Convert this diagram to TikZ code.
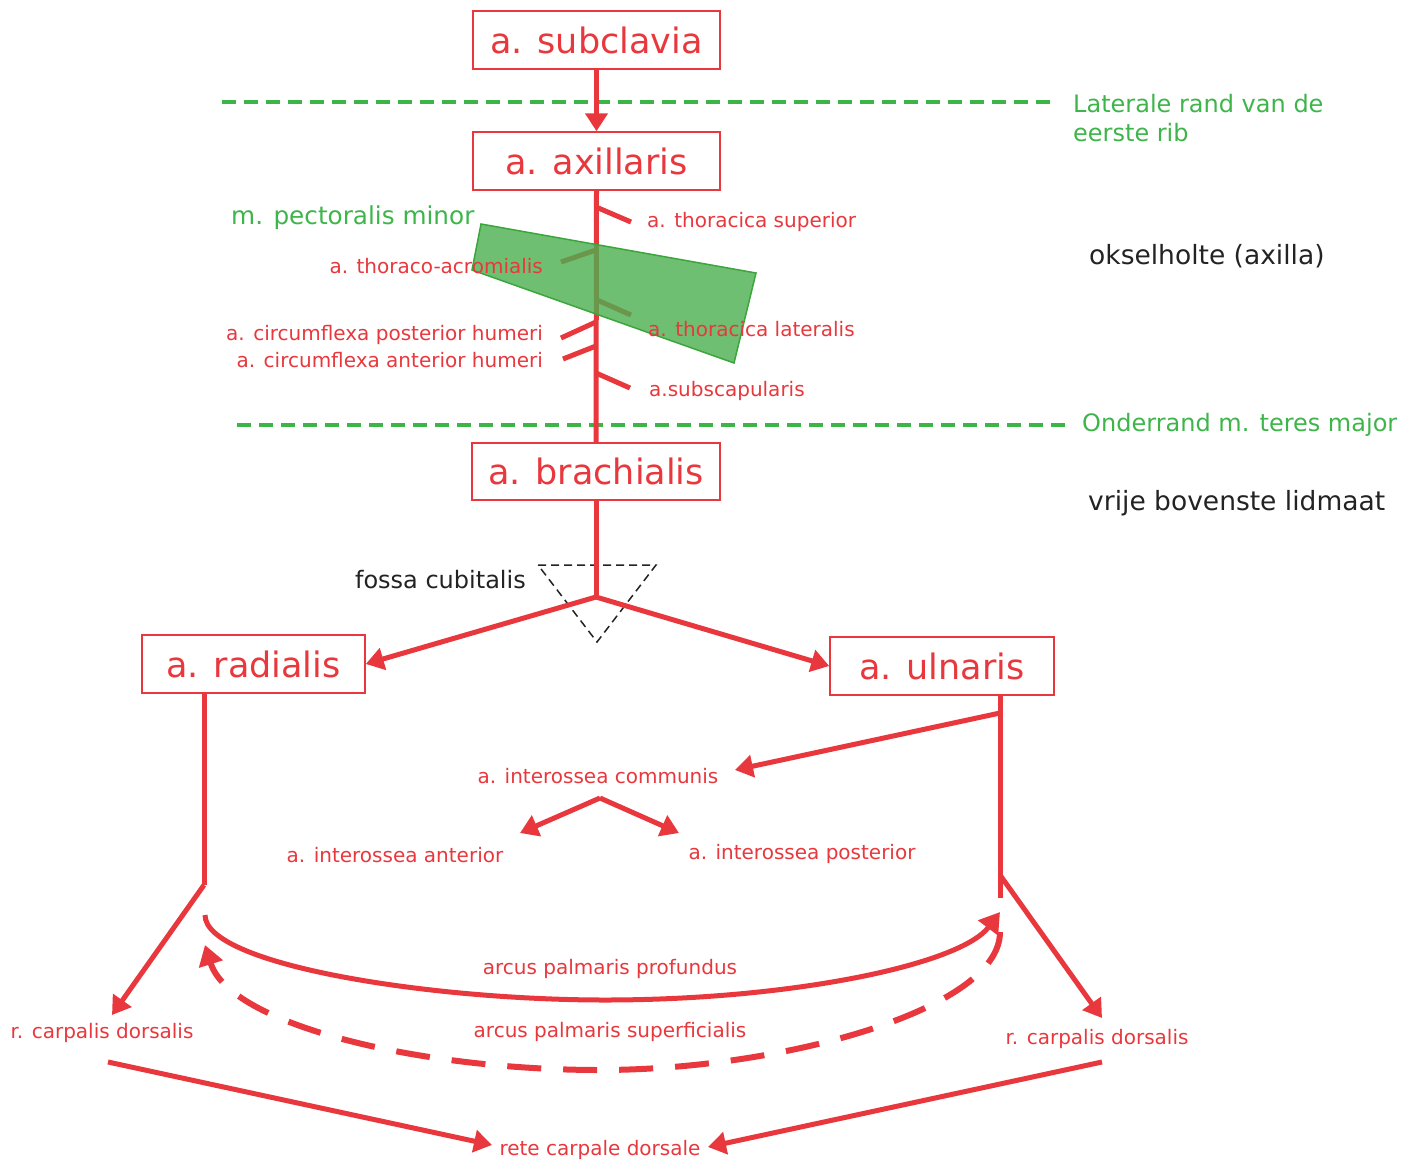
\documentclass[tikz,border=0pt]{standalone}
\usepackage{fontspec}
\setmainfont{DejaVu Sans}
\usetikzlibrary{arrows.meta}
\definecolor{artred}{RGB}{232,56,61}
\definecolor{lblgreen}{RGB}{62,181,74}
\definecolor{linegreen}{RGB}{60,181,72}
\definecolor{musgreen}{RGB}{76,175,80}
\definecolor{musedge}{RGB}{60,165,60}
\definecolor{darktext}{RGB}{35,35,35}
\begin{document}
\begin{tikzpicture}[x=1pt,y=-1pt,
  box/.style={draw=artred,line width=1.5pt,text=artred,font=\fontsize{35}{40}\selectfont,inner sep=0pt},
  vessel/.style={draw=artred,line width=5pt},
  varrow/.style={vessel,-{Triangle[length=18pt,width=22pt]}},
  small/.style={text=artred,font=\fontsize{20}{24}\selectfont,inner sep=0pt},
  greenlbl/.style={text=lblgreen,font=\fontsize{24}{29}\selectfont,inner sep=0pt},
  darklbl/.style={text=darktext,font=\fontsize{26.5}{30}\selectfont,inner sep=0pt},
  borderline/.style={draw=linegreen,line width=4pt,dash pattern=on 14pt off 8pt},
]
\useasboundingbox (0,0) rectangle (1422,1160);
\fill[white] (0,0) rectangle (1422,1160);

% main boxes
\node[box,minimum width=247pt,minimum height=58pt] (subcl) at (596.5,40) {a. subclavia};
\node[box,minimum width=247pt,minimum height=58pt] (axill) at (596.5,161) {a. axillaris};
\node[box,minimum width=248pt,minimum height=57pt] (brach) at (596,471.5) {a. brachialis};
\node[box,minimum width=223pt,minimum height=58pt] (radial) at (253.5,664) {a. radialis};
\node[box,minimum width=224pt,minimum height=58pt] (ulnar) at (942,666) {a. ulnaris};

% level lines
\coordinate (l1a) at (222,102); \coordinate (l1b) at (1052,102);
\coordinate (l2a) at (237,425); \coordinate (l2b) at (1068,425);
\draw[borderline] (l1a) -- (l1b);
\draw[borderline] (l2a) -- (l2b);
\node[greenlbl,anchor=west,align=left] (rib) at (1073,118.5) {Laterale rand van de\\eerste rib};
\node[greenlbl,anchor=west] (teres) at (1082,425) {Onderrand m. teres major};
\node[darklbl,anchor=west] (axilla) at (1089,256) {okselholte (axilla)};
\node[darklbl,anchor=west] (vrije) at (1088,503) {vrije bovenste lidmaat};

% trunk
\draw[varrow] (subcl.south) -- (axill.north);
\draw[vessel] (axill.south) -- (brach.north);

% axillary branches
\coordinate (b1s) at (596,207); \coordinate (b1e) at (631,222);
\coordinate (b2s) at (596,250); \coordinate (b2e) at (561,262);
\coordinate (b3s) at (597,300); \coordinate (b3e) at (631,315);
\coordinate (b4s) at (596,322); \coordinate (b4e) at (561,338);
\coordinate (b5s) at (596,346); \coordinate (b5e) at (563,359);
\coordinate (b6s) at (596,373); \coordinate (b6e) at (630,388);
\foreach \i in {1,...,6} {\draw[vessel] (b\i s) -- (b\i e);}

% m. pectoralis minor
\fill[musgreen,fill opacity=0.8] (481,224) -- (756,273) -- (734,363) -- (472,270) -- cycle;
\draw[musedge,line width=1.5pt] (481,224) -- (756,273) -- (734,363) -- (472,270) -- cycle;
\node[greenlbl,anchor=west,font=\fontsize{24.7}{29}\selectfont] (pect) at (231,218) {m. pectoralis minor};

\node[small,anchor=west] (thsup) at (647,222) {a. thoracica superior};
\node[small,anchor=east] (thacr) at (543,266) {a. thoraco-acromialis};
\node[small,anchor=west] (thlat) at (648,329) {a. thoracica lateralis};
\node[small,anchor=east] (cpost) at (543,335) {a. circumflexa posterior humeri};
\node[small,anchor=east] (cant) at (543,360) {a. circumflexa anterior humeri};
\node[small,anchor=west] (subsc) at (649,391) {a.subscapularis};

% fossa cubitalis
\coordinate (fossaA) at (538,565); \coordinate (fossaB) at (656,565); \coordinate (fossaC) at (597,642);
\draw[darktext,line width=1.5pt,dash pattern=on 8pt off 5pt] (fossaA) -- (fossaB) -- (fossaC) -- cycle;
\node[darklbl,anchor=east,font=\fontsize{24}{28}\selectfont] (fossa) at (526,580) {fossa cubitalis};

% bifurcation
\coordinate (fork) at (596,597);
\draw[vessel] (brach.south) -- (fork);
\draw[varrow] (fork) -- (radial.east);
\draw[varrow] (fork) -- (ulnar.west);

% forearm
\coordinate (rend) at (204,885);
\coordinate (uend) at (1000,898);
\draw[vessel] (radial.south -| rend) -- (rend);
\draw[vessel] (ulnar.south -| uend) -- (uend);

\node[small] (icom) at (598,776) {a. interossea communis};
\coordinate (icbr) at (1000,713);
\coordinate (icin) at (735,770);
\draw[varrow] (icbr) -- (icin);
\coordinate (isplit) at (600,798);
\coordinate (iaT) at (520,833); \coordinate (ipT) at (679,833);
\draw[varrow] (isplit) -- (iaT);
\draw[varrow] (isplit) -- (ipT);
\node[small] (iant) at (395,855) {a. interossea anterior};
\node[small] (ipost) at (802,854) {a. interossea posterior};

% carpal branches
\coordinate (rcdL) at (112,1015);
\coordinate (ubr) at (1000,875);
\coordinate (rcdR) at (1102,1018);
\draw[varrow] (rend) -- (rcdL);
\draw[varrow] (ubr) -- (rcdR);
\node[small] (rcl) at (102,1033) {r. carpalis dorsalis};
\node[small] (rcr) at (1097,1039) {r. carpalis dorsalis};

% palmar arches
\coordinate (apS) at (205,915); \coordinate (apE) at (1000,912);
\draw[vessel,-{Triangle[length=20pt,width=24pt]}] (apS) .. controls (205,965) and (430,1000) .. (605,1000) .. controls (790,1000) and (960,965) .. (apE);
\coordinate (asS) at (1000,932); \coordinate (asE) at (205,945);
\draw[vessel,line width=6pt,dash pattern=on 34pt off 22pt,-{Triangle[length=20pt,width=24pt]}] (asS) .. controls (1000,1010) and (780,1070) .. (600,1070) .. controls (420,1070) and (230,1025) .. (asE);
\node[small] (apl) at (610,969) {arcus palmaris profundus};
\node[small] (asl) at (610,1032) {arcus palmaris superficialis};

% rete
\node[small] (rete) at (600,1150) {rete carpale dorsale};
\coordinate (reL) at (108,1062); \coordinate (reR) at (1102,1062);
\coordinate (reLt) at (492,1145); \coordinate (reRt) at (708,1147);
\draw[varrow] (reL) -- (reLt);
\draw[varrow] (reR) -- (reRt);
\end{tikzpicture}
\end{document}
